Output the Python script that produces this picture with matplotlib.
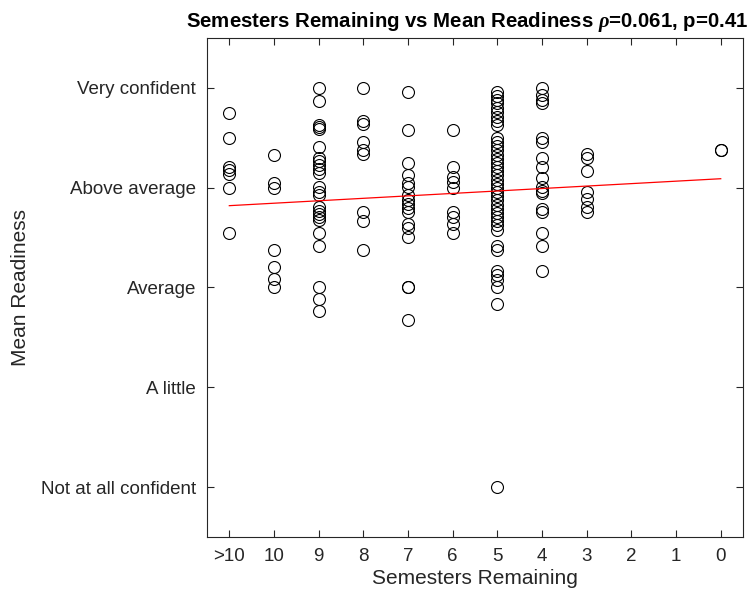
import numpy as np
import matplotlib.pyplot as plt

plt.rcParams['font.family'] = ['Liberation Sans', 'DejaVu Sans']
plt.rcParams['mathtext.fontset'] = 'custom'
plt.rcParams['mathtext.it'] = 'Liberation Serif:italic:bold'

categories = ['>10', '10', '9', '8', '7', '6', '5', '4', '3', '2', '1', '0']
levels = ['Not at all confident', 'A little', 'Average', 'Above average', 'Very confident']

# mean readiness per respondent, grouped by semesters remaining
readiness = {
    '>10': [4.75, 4.5, 4.21, 4.18, 4.14, 4.0, 3.55],
    '10': [4.33, 4.05, 4.0, 3.38, 3.21, 3.09, 3.0],
    '9': [5.0, 4.87, 4.63, 4.61, 4.59, 4.41, 4.3, 4.27, 4.23, 4.19, 4.15,
          4.01, 3.96, 3.93, 3.81, 3.77, 3.74, 3.71, 3.68, 3.55, 3.42,
          3.0, 2.88, 2.76],
    '8': [5.0, 4.67, 4.64, 4.46, 4.38, 4.34, 3.76, 3.67, 3.38],
    '7': [4.96, 4.58, 4.25, 4.13, 4.05, 4.01, 3.93, 3.88, 3.84, 3.8, 3.76,
          3.64, 3.6, 3.51, 3.0, 3.0, 2.67],
    '6': [4.58, 4.21, 4.11, 4.06, 4.0, 3.76, 3.71, 3.64, 3.55],
    '5': [4.96, 4.92, 4.88, 4.85, 4.8, 4.76, 4.71, 4.67, 4.63, 4.5, 4.46,
          4.42, 4.38, 4.33, 4.29, 4.25, 4.21, 4.17, 4.13, 4.08, 4.04, 4.0,
          3.96, 3.92, 3.88, 3.83, 3.79, 3.75, 3.71, 3.67, 3.63, 3.58,
          3.42, 3.38, 3.17, 3.13, 3.08, 3.0, 2.83, 1.0],
    '4': [5.0, 4.93, 4.88, 4.85, 4.5, 4.46, 4.3, 4.21, 4.1, 4.01, 3.97,
          3.95, 3.79, 3.76, 3.55, 3.42, 3.17],
    '3': [4.34, 4.3, 4.17, 3.96, 3.89, 3.81, 3.76],
    '0': [4.38, 4.38],
}

# least-squares line as drawn (value at first and last category)
fit_ends = [3.82, 4.09]

fig = plt.figure(figsize=(7.54, 5.94), dpi=100)
ax = fig.add_axes([0.2745, 0.096, 0.711, 0.84])

for i, cat in enumerate(categories):
    vals = readiness.get(cat, [])
    if vals:
        ax.plot(np.full(len(vals), i + 1), vals, 'o', mfc='none', mec='black',
                mew=0.8, ms=8.6, ls='none')

ax.plot([1, len(categories)], fit_ends, color='red', lw=0.9)

ax.set_xlim(0.5, len(categories) + 0.5)
ax.set_ylim(0.5, 5.5)
ax.set_xticks(np.arange(1, len(categories) + 1))
ax.set_xticklabels(categories)
ax.set_yticks(np.arange(1, 6))
ax.set_yticklabels(levels)

dark = '#262626'
for sp in ax.spines.values():
    sp.set_color(dark)
    sp.set_linewidth(0.8)
ax.tick_params(direction='in', length=5, width=0.8, color=dark,
               labelcolor=dark, labelsize=13.5, top=True, right=True, pad=8)

ax.set_xlabel('Semesters Remaining', fontsize=15, color=dark, labelpad=3)
ax.set_ylabel('Mean Readiness', fontsize=15, color=dark, labelpad=8)
ax.set_title(r'Semesters Remaining vs Mean Readiness $\rho$=0.061, p=0.41',
             fontsize=14.7, fontweight='bold', pad=8, x=0.485)

fig.savefig('out.png', dpi=100)
